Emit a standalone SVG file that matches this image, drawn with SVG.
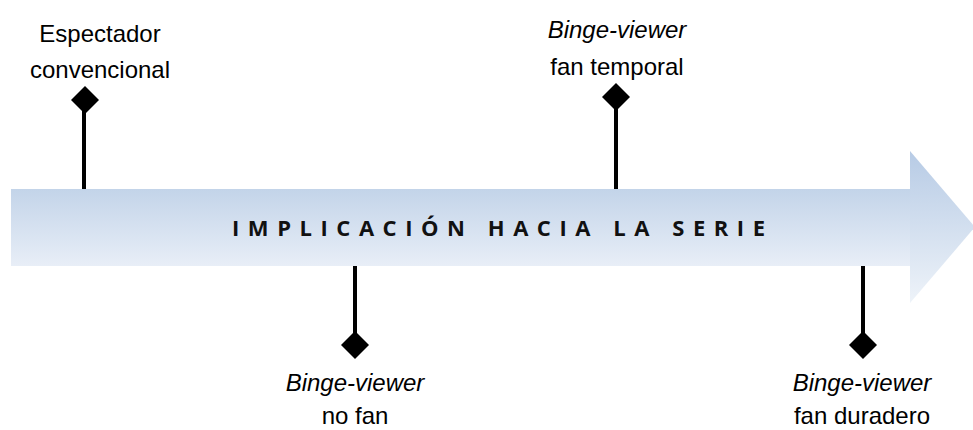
<svg xmlns="http://www.w3.org/2000/svg" width="973" height="430" viewBox="0 0 973 430">
<defs>
<linearGradient id="g" x1="0" y1="0" x2="0" y2="1">
<stop offset="0" stop-color="#c3d4e9"/>
<stop offset="1" stop-color="#e8eef7"/>
</linearGradient>
<linearGradient id="gh" gradientUnits="userSpaceOnUse" x1="0" y1="151" x2="0" y2="303">
<stop offset="0" stop-color="#b7cbe5"/>
<stop offset="1" stop-color="#eef3f9"/>
</linearGradient>
</defs>
<style>
.l{font-family:"Liberation Sans","Open Sans",sans-serif;font-size:24px;fill:#000;text-anchor:middle}
.i{font-style:italic}
.t{font-family:"Open Sans","Liberation Sans",sans-serif;font-weight:bold;font-size:22px;fill:#111}
.s{stroke:#000;stroke-width:4;fill:none}
.d{fill:#000}
</style>
<g id="arrow">
<rect x="11" y="189" width="900" height="77" fill="url(#g)"/>
<polygon points="910,151 975,227 910,303" fill="url(#gh)"/>
<text class="t" x="232" y="236" textLength="533" lengthAdjust="spacing">IMPLICACIÓN HACIA LA SERIE</text>
</g>
<g id="connectors">
<line class="s" x1="84" y1="105" x2="84" y2="189"/>
<line class="s" x1="616" y1="100" x2="616" y2="189"/>
<line class="s" x1="355" y1="266" x2="355" y2="340"/>
<line class="s" x1="863" y1="266" x2="863" y2="340"/>
</g>
<g id="n1">
<polygon class="d" points="85,86 99,100 85,114 71,100"/>
<text class="l" x="100" y="42">Espectador</text>
<text class="l" x="100" y="78">convencional</text>
</g>
<g id="n2">
<polygon class="d" points="616,83 630,97 616,111 602,97"/>
<text class="l i" x="617" y="38">Binge-viewer</text>
<text class="l" x="617" y="75">fan temporal</text>
</g>
<g id="n3">
<polygon class="d" points="355,331 369,345 355,359 341,345"/>
<text class="l i" x="355" y="391">Binge-viewer</text>
<text class="l" x="355" y="424">no fan</text>
</g>
<g id="n4">
<polygon class="d" points="863,331 877,345 863,359 849,345"/>
<text class="l i" x="862" y="391">Binge-viewer</text>
<text class="l" x="862" y="424">fan duradero</text>
</g>
</svg>
